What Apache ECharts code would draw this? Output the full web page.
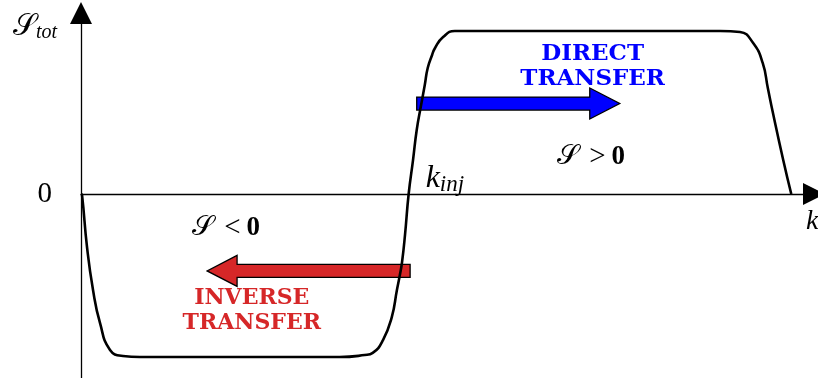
<!DOCTYPE html>
<html>
<head>
<meta charset="utf-8">
<script src="https://cdn.jsdelivr.net/npm/echarts@6/dist/echarts.min.js"></script>
<style>
  html, body { margin: 0; padding: 0; background: #ffffff; }
  #chart { width: 818px; height: 378px; }
</style>
</head>
<body>
<div id="chart"></div>
<script>
// Total energy transfer S_tot as a function of wavenumber k
const kPoints = [0, 0.14, 0.82, 1.64, 2.59, 3.96, 5.73, 8.05, 16.2, 29.9, 35.3, 38.7, 39.8, 41.2, 42.4, 43.1, 43.5, 43.8, 44.2, 44.7, 45.3, 45.8, 46.4, 46.9, 47.3, 47.9, 48.3, 49.4, 51.0, 53.1, 70.8, 87.2, 89.9, 91.7, 93.0, 93.7, 94.4, 95.8, 96.9];
const sTotal  = [0, -0.006, -0.325, -0.589, -0.791, -0.957, -0.994, -1.0, -1.0, -1.0, -1.0, -0.988, -0.975, -0.896, -0.755, -0.589, -0.497, -0.417, -0.252, 0, 0.209, 0.393, 0.546, 0.669, 0.773, 0.853, 0.896, 0.963, 1.0, 1.0, 1.0, 1.0, 0.994, 0.926, 0.804, 0.65, 0.497, 0.209, 0];

// injection wavenumber (zero crossing)
const kInj = 44.7;

// transfer arrows: [from k, to k, level]
const directArrow  = [45.8, 73.5, 0.555];
const inverseArrow = [44.9, 17.2, -0.472];

// annotation anchors: [k, S]
const directTextAt  = [69.8, 0.785];
const inverseTextAt = [23.3, -0.718];
const posTextAt     = [69.6, 0.227];
const negTextAt     = [19.8, -0.209];

const tickLabels = [0];

const serif = '"Liberation Serif", "DejaVu Serif", serif';
const blue = '#0000ff';
const red = '#d62728';

const curve = kPoints.map((k, i) => [k, sTotal[i]]);

function arrowItem(color) {
  return function (params, api) {
    const a = api.coord([api.value(0), api.value(2)]);
    const b = api.coord([api.value(1), api.value(2)]);
    const dir = b[0] > a[0] ? 1 : -1;
    const sh = 6.5, hh = 15.5, hl = 30;
    const y = a[1];
    const bx = b[0] - dir * hl;
    return {
      type: 'polygon',
      shape: {
        points: [
          [a[0], y - sh], [bx, y - sh], [bx, y - hh], [b[0], y],
          [bx, y + hh], [bx, y + sh], [a[0], y + sh]
        ]
      },
      style: { fill: color, stroke: '#000', lineWidth: 1.3 },
      z2: 1
    };
  };
}

function note(at, text, rich) {
  return {
    type: 'scatter',
    data: [at],
    symbolSize: 0,
    silent: true,
    z: 4,
    itemStyle: { opacity: 0 },
    label: {
      show: true,
      position: 'inside',
      formatter: text,
      textBorderWidth: 0,
      textShadowBlur: 0,
      opacity: 1,
      rich: rich
    },
    emphasis: { disabled: true }
  };
}

function plain(style) {
  return Object.assign({ textBorderWidth: 0, textShadowBlur: 0 }, style);
}

const mathRich = {
  s: plain({ fontFamily: serif, fontSize: 28, color: '#000' }),
  o: plain({ fontFamily: serif, fontSize: 29, color: '#000', padding: [0, 6, 0, 10] }),
  b: plain({ fontFamily: serif, fontWeight: 'bold', fontSize: 27, color: '#000' })
};

const labelFont = '"DejaVu Serif", serif';

const chart = echarts.init(document.getElementById('chart'));
chart.setOption({
  animation: false,
  backgroundColor: '#ffffff',
  grid: { left: 81, right: 4, top: 13, bottom: 0, containLabel: false, outerBoundsMode: 'none' },
  xAxis: {
    type: 'value',
    min: 0,
    max: 100,
    axisLine: {
      show: true, onZero: true,
      lineStyle: { color: '#000', width: 1.3 },
      symbol: ['none', 'triangle'],
      symbolSize: [22, 22]
    },
    axisTick: { show: false },
    axisLabel: { show: false },
    splitLine: { show: false },
    name: 'k',
    nameLocation: 'end',
    nameGap: -8,
    nameTextStyle: {
      fontFamily: serif, fontStyle: 'italic', fontSize: 28, color: '#000',
      align: 'left', verticalAlign: 'top', padding: [14, 0, 0, 0]
    }
  },
  yAxis: {
    type: 'value',
    min: -1.1288,
    max: 1.1104,
    axisLine: {
      show: true,
      lineStyle: { color: '#000', width: 1.3 },
      symbol: ['none', 'triangle'],
      symbolSize: [22, 22]
    },
    axisTick: { show: false },
    axisLabel: {
      show: true,
      customValues: tickLabels,
      formatter: v => String(v),
      fontFamily: serif,
      fontSize: 29,
      color: '#000',
      margin: 29
    },
    splitLine: { show: false },
    name: '{s|𝒮}{t|tot}',
    nameLocation: 'end',
    nameGap: -14,
    nameTextStyle: {
      align: 'right',
      verticalAlign: 'middle',
      padding: [0, 24, 0, 0],
      rich: {
        s: { fontFamily: serif, fontSize: 30, color: '#000' },
        t: { fontFamily: serif, fontStyle: 'italic', fontSize: 20, color: '#000', padding: [12, 0, 0, 0] }
      }
    }
  },
  series: [
    {
      type: 'custom',
      name: 'direct',
      renderItem: arrowItem(blue),
      data: [directArrow],
      z: 2,
      silent: true
    },
    {
      type: 'custom',
      name: 'inverse',
      renderItem: arrowItem(red),
      data: [inverseArrow],
      z: 2,
      silent: true
    },
    {
      type: 'line',
      name: 'S_tot',
      data: curve,
      showSymbol: false,
      symbol: 'none',
      smooth: 0.5,
      lineStyle: { color: '#000', width: 2.6 },
      z: 3,
      markPoint: {
        symbol: 'circle',
        symbolSize: 0,
        silent: true,
        data: [{ coord: [kInj, 0] }],
        label: {
          show: true,
          position: 'right',
          offset: [12, -15],
          formatter: '{k|k}{i|inj}',
          textBorderWidth: 0,
          rich: {
            k: plain({ fontFamily: serif, fontStyle: 'italic', fontSize: 32, color: '#000' }),
            i: plain({ fontFamily: serif, fontStyle: 'italic', fontSize: 23, color: '#000', padding: [12, 0, 0, 0] })
          }
        }
      }
    },
    note(directTextAt, '{d|DIRECT}\n{d|TRANSFER}', {
      d: plain({ fontFamily: labelFont, fontWeight: 'bold', fontSize: 23, lineHeight: 25, color: blue, align: 'center' })
    }),
    note(inverseTextAt, '{d|INVERSE}\n{d|TRANSFER}', {
      d: plain({ fontFamily: labelFont, fontWeight: 'bold', fontSize: 22, lineHeight: 25, color: red, align: 'center' })
    }),
    note(posTextAt, '{s|𝒮}{o|>}{b|0}', mathRich),
    note(negTextAt, '{s|𝒮}{o|<}{b|0}', mathRich)
  ]
});
</script>
</body>
</html>
